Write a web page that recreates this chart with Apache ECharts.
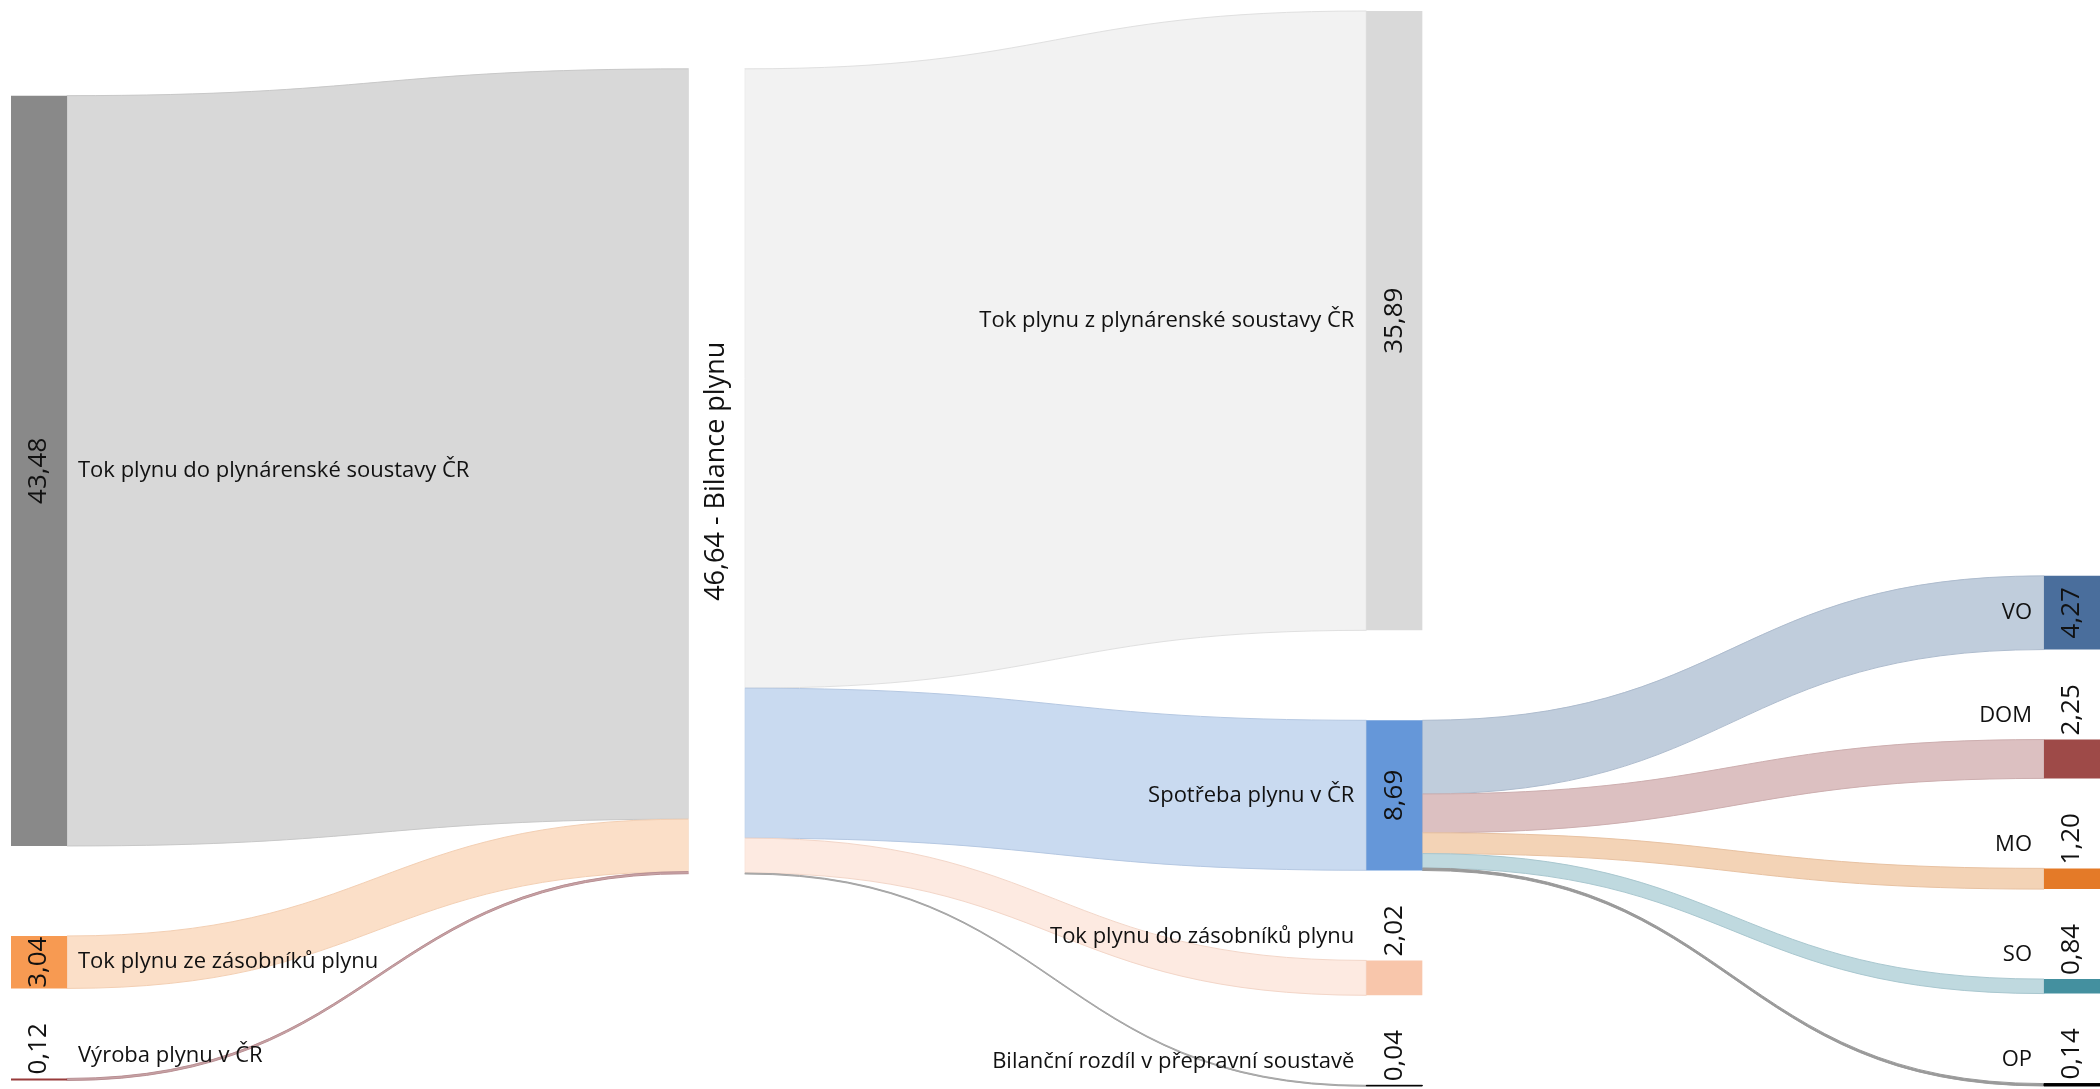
<!DOCTYPE html>
<html><head><meta charset="utf-8">
<script src="https://cdn.jsdelivr.net/npm/echarts@6/dist/echarts.min.js"></script>
<style>html,body{margin:0;padding:0;background:#fff}#c{width:2100px;height:1089px}</style>
</head><body><div id="c"></div>
<script>
// ---- data ----
const nodeNames = ['Tok plynu do plynárenské soustavy ČR','Tok plynu ze zásobníků plynu','Výroba plynu v ČR','Bilance plynu','Tok plynu z plynárenské soustavy ČR','Spotřeba plynu v ČR','Tok plynu do zásobníků plynu','Bilanční rozdíl v přepravní soustavě','VO','DOM','MO','SO','OP'];
const nodeValues = [43.48, 3.04, 0.12, 46.64, 35.89, 8.69, 2.02, 0.04, 4.27, 2.25, 1.20, 0.84, 0.14];
const linkSources = ['Tok plynu do plynárenské soustavy ČR','Tok plynu ze zásobníků plynu','Výroba plynu v ČR','Bilance plynu','Bilance plynu','Bilance plynu','Bilance plynu','Spotřeba plynu v ČR','Spotřeba plynu v ČR','Spotřeba plynu v ČR','Spotřeba plynu v ČR','Spotřeba plynu v ČR'];
const linkTargets = ['Bilance plynu','Bilance plynu','Bilance plynu','Tok plynu z plynárenské soustavy ČR','Spotřeba plynu v ČR','Tok plynu do zásobníků plynu','Bilanční rozdíl v přepravní soustavě','VO','DOM','MO','SO','OP'];
const linkValues = [43.48, 3.04, 0.12, 35.89, 8.69, 2.02, 0.04, 4.27, 2.25, 1.20, 0.84, 0.14];

// ---- styles ----
const nodeColors = ['#898989','#f79a52','#983b3b','#ffffff','#d9d9d9','#6597d9','#f8c6ab','#000000','#4a6e9c','#9e4a48','#e47a28','#44909f','#000000'];
const linkColors = ['#d8d8d8','#fbdfc8','#c9a3a6','#f2f2f2','#c9daf0','#fdeae1','#a6a6a6','#c0cddc','#dcc0c1','#f3d3b6','#bfd9df','#9a9a9a'];
const linkBorders = ['#c8c8c8','#f3cfb3','#b88f93','#e0e0e0','#b5c8e2','#f3d6c8','#a6a6a6','#aebcce','#cdaeaf','#e8c2a2','#a9c7cf','#9a9a9a'];

const FONT = 'Open Sans';
const TXT = '#111111';
const fmt = v => v.toFixed(2).replace('.', ',');
const isSource = n => !linkTargets.includes(n);
const MID = 'Bilance plynu';

function links(styleFn) {
  return linkSources.map((s, i) => ({source: s, target: linkTargets[i], value: linkValues[i], lineStyle: styleFn(i)}));
}
function base(extra) {
  return Object.assign({
    type: 'sankey', left: 11, right: 0, top: 11, bottom: 3,
    nodeWidth: 56, nodeGap: 90, nodeAlign: 'left', layoutIterations: 1000,
    draggable: false, silent: true, emphasis: {disabled: true},
    animation: false
  }, extra);
}
const clear = 'rgba(0,0,0,0)';

// Series A: visible nodes and links
const seriesA = base({
  data: nodeNames.map((n, i) => ({
    name: n, value: nodeValues[i],
    itemStyle: nodeColors[i] === '#000000'
      ? {color: '#000000', borderColor: '#000000', borderWidth: 1}
      : {color: nodeColors[i], borderWidth: 0},
    label: {show: false}
  })),
  links: links(i => ({color: linkColors[i], opacity: 1, curveness: 0.5, borderColor: linkBorders[i], borderWidth: 1}))
});

// Series B: name labels
const seriesB = base({
  data: nodeNames.map((n, i) => {
    const v = nodeValues[i];
    let label;
    if (n === MID) label = {show: false};
    else if (isSource(n)) label = v >= 3 ? {show: true, position: 'right', distance: 11} : {show: true, position: [67, -23], align: 'left', verticalAlign: 'middle'};
    else label = v >= 3 ? {show: true, position: 'left', distance: 12} : {show: true, position: [-12, -24], align: 'right', verticalAlign: 'middle'};
    Object.assign(label, {fontFamily: FONT, fontSize: 22, color: TXT, formatter: '{b}'});
    return {name: n, value: v, itemStyle: {color: clear}, label};
  }),
  links: links(() => ({color: clear, opacity: 0}))
});

// Series C: value labels (rotated)
const seriesC = base({
  data: nodeNames.map((n, i) => {
    const v = nodeValues[i];
    let label;
    if (n === MID) label = {show: true, position: 'inside', rotate: 90, fontSize: 27, formatter: p => fmt(p.value) + ' - ' + p.name};
    else if (v >= 3) label = {show: true, position: 'inside', rotate: 90, formatter: p => fmt(p.value)};
    else label = {show: true, position: ['50%', -4], rotate: 90, align: 'left', verticalAlign: 'middle', formatter: p => fmt(p.value)};
    label = Object.assign({fontFamily: FONT, fontSize: 26, color: TXT, fontWeight: 'normal'}, label);
    return {name: n, value: v, itemStyle: {color: clear}, label};
  }),
  links: links(() => ({color: clear, opacity: 0}))
});

const chart = echarts.init(document.getElementById('c'), null, {renderer: 'canvas'});
chart.setOption({backgroundColor: '#ffffff', series: [seriesA, seriesB, seriesC]});
</script></body></html>
